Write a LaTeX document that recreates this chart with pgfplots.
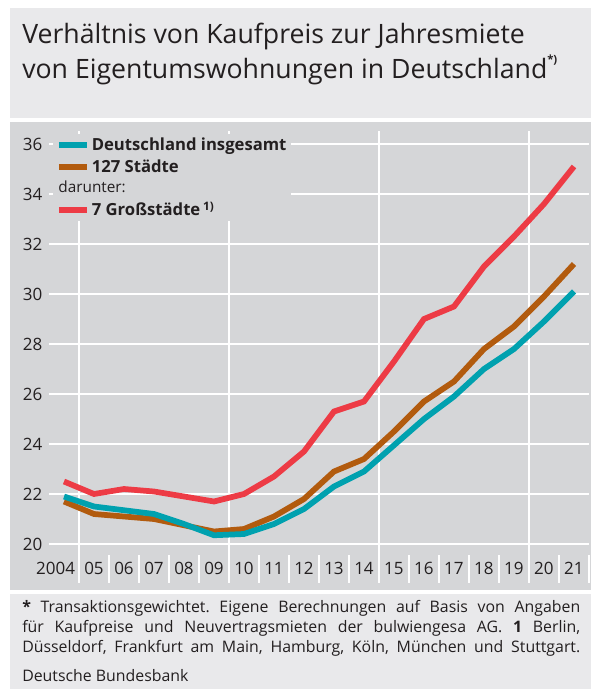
\documentclass[border=0pt]{standalone}
\usepackage{fontspec}
\setmainfont{Open Sans}
\usepackage{pgfplots}
\pgfplotsset{compat=1.18}
\definecolor{panelgray}{RGB}{213,214,216}
\definecolor{boxgray}{RGB}{233,233,235}
\definecolor{txt}{RGB}{35,31,32}
\definecolor{dteal}{RGB}{0,161,175}
\definecolor{dbrown}{RGB}{178,91,14}
\definecolor{dred}{RGB}{237,59,69}

\begin{document}
\frenchspacing
\begin{tikzpicture}
% background boxes, in pixel units of the reference
\begin{scope}[x=0.75pt,y=-0.75pt]
  \fill[white] (0,0) rectangle (601,689);
  \fill[boxgray] (10,8) rectangle (591,118);
  \fill[panelgray] (10,122) rectangle (591,590);
  \fill[boxgray] (10,594) rectangle (591,689);
  \node[anchor=base west, inner sep=0, text=txt, font=\fontsize{20}{24}\selectfont]
    at (22,43) {Verhältnis von Kaufpreis zur Jahresmiete};
  \node[anchor=base west, inner sep=0, text=txt, font=\fontsize{20}{24}\selectfont]
    at (22,78) {von Eigentumswohnungen in Deutschland\raisebox{0.55em}{\fontsize{8.5}{9}\selectfont\bfseries *)}};
  \node[anchor=north west, inner sep=0, text=txt, text width=418.5pt, align=justify,
        font=\fontsize{11.9}{15}\selectfont]
    at (22,600) {\textbf{*} Transaktionsgewichtet. Eigene Berechnungen auf Basis von Angaben\linebreak
      für Kaufpreise und Neuvertragsmieten der bulwiengesa AG. \textbf{1} Berlin,\linebreak
      Düsseldorf, Frankfurt am Main, Hamburg, Köln, München und Stuttgart.\parfillskip=0pt\par};
  \node[anchor=base west, inner sep=0, text=txt, font=\fontsize{11.9}{15}\selectfont]
    at (22,681) {Deutsche Bundesbank};
\end{scope}

\begin{axis}[
  at={(36.75pt,-437.06pt)}, anchor=south west,
  scale only axis, width=405pt, height=338.44pt,
  xmin=2003.5, xmax=2021.5, ymin=18.45, ymax=36.5,
  axis line style={draw=none},
  xtick={2004,...,2021},
  xticklabels={\makebox[0pt][r]{2004\kern-8.25pt},05,06,07,08,09,10,11,12,13,14,15,16,17,18,19,20,21},
  minor xtick={2005.5,2006.5,...,2021.5},
  ytick={20,22,...,36},
  xtick pos=bottom, ytick pos=left,
  tick align=inside,
  major tick length=0pt,
  minor tick length=21pt,
  minor tick style={white, line width=1.5pt},
  ymajorgrids=true,
  major grid style={white, line width=1.5pt},
  extra x ticks={2004.5,2009.5,2014.5,2019.5},
  extra x tick labels={},
  extra x tick style={grid=major, major tick length=0pt},
  /pgf/number format/assume math mode=true,
  tick label style={text=txt, font=\fontsize{12.75}{14}\selectfont},
  xticklabel style={anchor=center, yshift=11pt},
  yticklabel style={xshift=-1.5pt},
  legend cell align=left,
  legend style={at={(0,1)}, anchor=north west, xshift=3pt, yshift=-2pt,
    draw=none, fill=panelgray, inner xsep=2pt, inner ysep=1pt,
    font=\fontsize{12.5}{14}\selectfont\bfseries, text=txt,
    nodes={inner sep=1.6pt}, row sep=2pt},
  legend image code/.code={\draw[#1, line width=4.3pt] (0pt,0pt) -- (21pt,0pt);},
]
\addlegendimage{dteal}
\addlegendentry{Deutschland insgesamt}
\addlegendimage{dbrown}
\addlegendentry{127 Städte}
\addlegendimage{empty legend}
\addlegendentry{\hspace*{-25pt}\mdseries\fontsize{11.5}{13}\selectfont darunter:}
\addlegendimage{dred}
\addlegendentry{7 Großstädte\,\textsuperscript{1)}}

\addplot[dbrown, line width=4.3pt, forget plot] coordinates {
  (2004,21.7) (2005,21.2) (2006,21.1) (2007,21.0) (2008,20.75) (2009,20.5)
  (2010,20.6) (2011,21.1) (2012,21.8) (2013,22.9) (2014,23.4) (2015,24.5)
  (2016,25.7) (2017,26.5) (2018,27.8) (2019,28.7) (2020,29.9) (2021,31.2)
};
\addplot[dteal, line width=4.3pt, forget plot] coordinates {
  (2004,21.9) (2005,21.5) (2006,21.35) (2007,21.2) (2008,20.8) (2009,20.35)
  (2010,20.4) (2011,20.8) (2012,21.4) (2013,22.3) (2014,22.9) (2015,23.95)
  (2016,25.0) (2017,25.9) (2018,27.0) (2019,27.8) (2020,28.9) (2021,30.1)
};
\addplot[dred, line width=4.3pt, forget plot] coordinates {
  (2004,22.5) (2005,22.0) (2006,22.2) (2007,22.1) (2008,21.9) (2009,21.7)
  (2010,22.0) (2011,22.7) (2012,23.7) (2013,25.3) (2014,25.7) (2015,27.3)
  (2016,29.0) (2017,29.5) (2018,31.1) (2019,32.3) (2020,33.6) (2021,35.1)
};
\end{axis}
\end{tikzpicture}
\end{document}
